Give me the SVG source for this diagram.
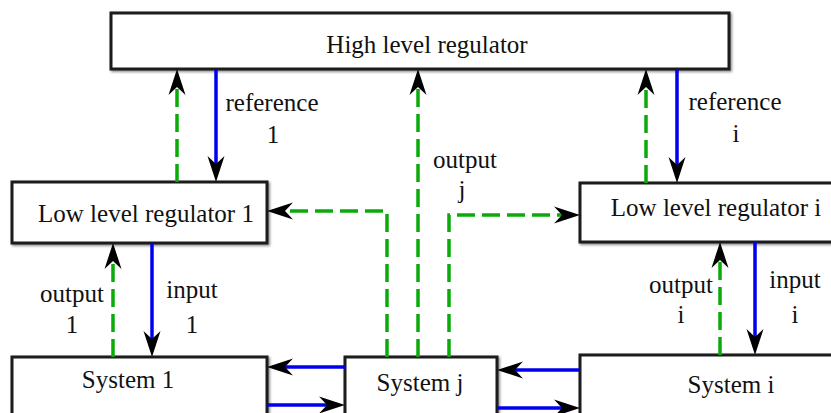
<svg xmlns="http://www.w3.org/2000/svg" width="831" height="413" viewBox="0 0 831 413">
<style>
.box{fill:#fff;stroke:#1a1a1a;stroke-width:3;filter:url(#sh)}
.t{font-family:"Liberation Serif","Times New Roman",serif;font-size:25px;fill:#111;text-anchor:middle}
.b{fill:none;stroke:#0000ee;stroke-width:3.5;marker-end:url(#ah)}
.g{fill:none;stroke:#0aaa0a;stroke-width:3.5;stroke-dasharray:18 7;marker-end:url(#ah)}
</style>
<defs>
<filter id="sh" x="-5%" y="-10%" width="110%" height="130%">
<feDropShadow dx="1.5" dy="1.5" stdDeviation="1" flood-color="#000" flood-opacity="0.45"/>
</filter>
<marker id="ah" viewBox="-27 -10 28 20" refX="-8" refY="0" markerWidth="28" markerHeight="20" markerUnits="userSpaceOnUse" orient="auto">
<path d="M0,0 L-26,-8.5 L-18,0 L-26,8.5 Z" fill="#000"/>
</marker>
</defs>
<rect width="831" height="413" fill="#fff"/>
<g id="high">
<rect class="box" x="111" y="13" width="618" height="56"/>
<text class="t" x="427" y="53">High level regulator</text>
</g>
<g id="llr1">
<rect class="box" x="12" y="182" width="255" height="61"/>
<text class="t" x="146" y="222">Low level regulator 1</text>
</g>
<g id="llri">
<rect class="box" x="580" y="183" width="270" height="59"/>
<text class="t" x="716" y="216">Low level regulator i</text>
</g>
<g id="sys1">
<rect class="box" x="12" y="357" width="255" height="70"/>
<text class="t" x="128" y="388">System 1</text>
</g>
<g id="sysj">
<rect class="box" x="345" y="357" width="152" height="70"/>
<text class="t" x="420" y="391">System j</text>
</g>
<g id="sysi">
<rect class="box" x="580" y="355" width="270" height="70"/>
<text class="t" x="731" y="393">System i</text>
</g>
<g id="connectors">
<path class="b" d="M216,69 V174"/>
<path class="g" d="M177,182 V77"/>
<path class="g" d="M387,357 V211 H275"/>
<path class="g" d="M418,357 V77"/>
<path class="g" d="M449,357 V215 H572"/>
<path class="g" d="M646,183 V77"/>
<path class="b" d="M677,69 V175"/>
<path class="g" d="M113,357 V251"/>
<path class="b" d="M152,243 V349"/>
<path class="b" d="M345,367 H275"/>
<path class="b" d="M267,405 H337"/>
<path class="b" d="M580,370 H505"/>
<path class="b" d="M497,408 H572"/>
<path class="g" d="M720,355 V250"/>
<path class="b" d="M755,242 V347"/>
</g>
<g id="labels">
<text class="t" x="272" y="111">reference</text>
<text class="t" x="273" y="143">1</text>
<text class="t" x="465" y="168">output</text>
<text class="t" x="462" y="198">j</text>
<text class="t" x="735" y="110">reference</text>
<text class="t" x="736" y="142">i</text>
<text class="t" x="72" y="302">output</text>
<text class="t" x="72" y="333">1</text>
<text class="t" x="192" y="298">input</text>
<text class="t" x="192" y="333">1</text>
<text class="t" x="681" y="293">output</text>
<text class="t" x="681" y="323">i</text>
<text class="t" x="795" y="288">input</text>
<text class="t" x="795" y="323">i</text>
</g>
</svg>
